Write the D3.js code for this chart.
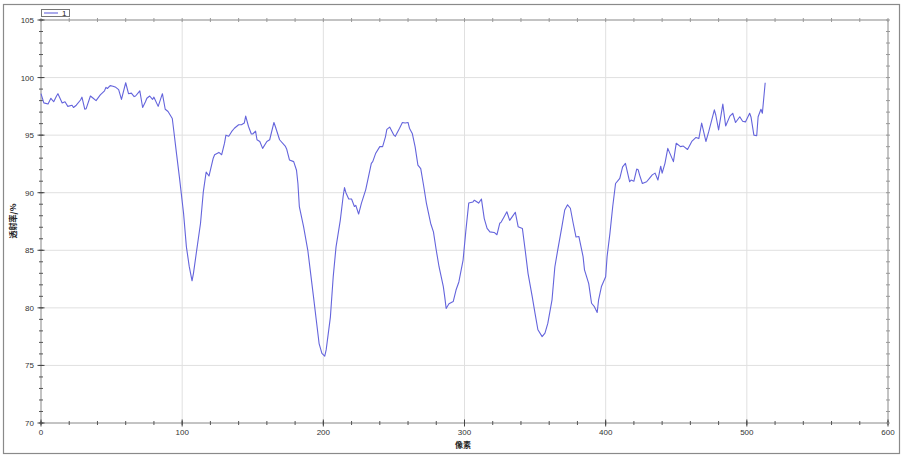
<!DOCTYPE html>
<html><head><meta charset="utf-8">
<script src="https://cdn.jsdelivr.net/npm/d3@7"></script>
<style>body{margin:0;background:#fff;}svg{display:block;font-family:"Liberation Sans",Arial,sans-serif;}</style>
</head><body>
<svg id="c" width="906" height="459"></svg>
<script>
const pixels = [0,2,5,7,9,11,12,15,17,19,22,23,25,28,29,31,32,35,37,39,42,45,46,47,49,51,53,55,57,60,62,64,66,67,70,72,74,75,77,79,80,83,86,88,90,93,94,96,98,101,103,105,107,108,110,113,115,117,119,122,123,126,128,130,131,133,135,137,140,142,144,145,147,149,150,152,153,155,157,160,162,165,166,169,173,174,176,179,181,182,183,186,189,191,193,195,197,199,201,202,205,207,209,212,214,215,216,218,220,222,223,225,227,230,232,234,235,237,240,242,244,245,247,250,251,254,256,258,260,261,263,265,267,269,271,273,276,278,280,282,285,286,287,289,292,294,296,299,301,303,306,307,310,312,314,316,318,321,323,325,326,328,330,332,334,336,338,341,343,345,348,350,352,355,357,359,362,364,366,369,371,373,375,377,379,381,384,385,388,390,392,394,395,397,400,401,403,405,407,409,410,412,414,415,417,418,420,422,423,424,426,429,431,433,435,437,439,440,442,444,448,450,453,455,458,461,464,466,468,471,473,477,478,480,483,485,488,490,492,495,497,499,502,503,505,507,508,510,511,513];
const transmittance = [98.6,97.8,97.7,98.2,97.9,98.4,98.6,97.8,97.9,97.5,97.6,97.4,97.6,98.05,98.3,97.25,97.3,98.4,98.2,98.0,98.5,98.85,99.15,99.05,99.3,99.25,99.15,98.95,98.1,99.55,98.6,98.65,98.35,98.4,98.85,97.4,97.9,98.2,98.4,98.1,98.3,97.5,98.6,97.25,97.05,96.45,95.45,93.4,91.4,88.2,85.3,83.6,82.35,83.0,84.75,87.35,90.1,91.8,91.45,93.0,93.3,93.5,93.3,94.3,95.0,94.9,95.3,95.6,95.9,95.9,96.05,96.65,95.75,95.1,95.1,95.35,94.6,94.45,93.85,94.45,94.6,96.1,95.75,94.6,94.05,93.8,92.85,92.7,91.95,90.8,88.8,87.05,85.0,83.0,81.0,78.95,76.9,76.05,75.8,76.35,79.2,82.7,85.3,87.6,89.65,90.45,90.0,89.45,89.45,88.8,88.9,88.15,89.1,90.25,91.4,92.55,92.7,93.4,94.0,94.0,94.85,95.5,95.7,95.0,94.9,95.6,96.1,96.05,96.1,95.6,95.15,94.0,92.4,92.1,90.65,89.1,87.35,86.6,85.0,83.55,81.85,80.95,79.95,80.35,80.55,81.55,82.25,84.15,86.75,89.1,89.2,89.35,89.1,89.45,87.75,86.9,86.6,86.55,86.35,87.35,87.45,87.9,88.35,87.6,87.95,88.3,87.05,86.9,85.0,83.0,80.95,79.5,78.1,77.5,77.8,78.65,80.7,83.55,85.0,87.05,88.5,88.95,88.65,87.35,86.15,86.2,84.45,83.3,82.1,80.4,80.1,79.6,80.7,81.85,82.7,84.45,86.45,88.8,90.8,91.1,91.25,92.25,92.55,92.0,90.95,91.1,91.0,92.05,92.0,91.55,90.8,90.95,91.25,91.55,91.7,91.1,92.3,91.7,92.55,93.85,92.7,94.3,94.0,94.05,93.75,94.45,94.8,94.7,96.05,94.45,95.3,97.2,96.75,95.45,97.7,95.8,96.65,96.9,96.1,96.6,96.2,96.15,96.9,96.55,95.0,94.95,96.6,97.25,96.9,99.55];
const xTicks = [0,100,200,300,400,500,600];
const yTicks = [70,75,80,85,90,95,100,105];
const xLabel = "像素";
const yLabel = "透射率/%";
const seriesName = "1";

const svg = d3.select("#c");
const L = 41, R = 888, T = 20, B = 423;
const x = d3.scaleLinear().domain([0, 600]).range([L, R]);
const y = d3.scaleLinear().domain([70, 105]).range([B, T]);

// outer frame
svg.append("rect").attr("x", 3.5).attr("y", 4.5).attr("width", 896).attr("height", 449)
  .attr("fill", "#fff").attr("stroke", "#8a8a8a").attr("stroke-width", 1.2);

// grid
const g = svg.append("g");
g.selectAll(".gx").data(xTicks.slice(1, -1)).join("line")
  .attr("x1", d => x(d)).attr("x2", d => x(d)).attr("y1", T).attr("y2", B)
  .attr("stroke", "#e0e0e0").attr("stroke-width", 1);
g.selectAll(".gy").data(yTicks.slice(1, -1)).join("line")
  .attr("y1", d => y(d)).attr("y2", d => y(d)).attr("x1", L).attr("x2", R)
  .attr("stroke", "#e0e0e0").attr("stroke-width", 1);

// plot border
svg.append("rect").attr("x", L).attr("y", T).attr("width", R - L).attr("height", B - T)
  .attr("fill", "none").attr("stroke", "#888").attr("stroke-width", 1);

const xMinor = d3.range(0, 601, 20);
const yMinor = d3.range(70, 105.01, 1);
function tickLines(vals, len, isX, pos, color) {
  svg.append("g").selectAll("line").data(vals).join("line")
    .attr("x1", d => isX ? x(d) : pos - len).attr("x2", d => isX ? x(d) : pos + len)
    .attr("y1", d => isX ? pos - len : y(d)).attr("y2", d => isX ? pos + len : y(d))
    .attr("stroke", color).attr("stroke-width", 1);
}
tickLines(xMinor, 2, true, B, "#555");
tickLines(xTicks, 3.5, true, B, "#444");
tickLines(xMinor, 2, true, T, "#999");
tickLines(yMinor, 2, false, L, "#555");
tickLines(yTicks, 3.5, false, L, "#444");
tickLines(yMinor, 2, false, R, "#999");

// tick labels
svg.append("g").selectAll("text").data(xTicks).join("text")
  .attr("x", d => x(d)).attr("y", 435).attr("text-anchor", "middle")
  .attr("font-size", 8).attr("fill", "#333").text(d => d);
svg.append("g").selectAll("text").data(yTicks).join("text")
  .attr("x", 34).attr("y", d => y(d) + 3).attr("text-anchor", "end")
  .attr("font-size", 8).attr("fill", "#333").text(d => d);

// axis titles
svg.append("text").attr("x", 463).attr("y", 448).attr("text-anchor", "middle")
  .attr("font-size", 8).attr("font-weight", "bold").attr("fill", "#222")
  .attr("font-family", "'Noto Sans CJK SC',sans-serif").text(xLabel);
svg.append("text").attr("transform", "translate(16,221) rotate(-90)").attr("text-anchor", "middle")
  .attr("font-size", 8).attr("font-weight", "bold").attr("fill", "#222")
  .attr("font-family", "'Noto Sans CJK SC',sans-serif").text(yLabel);

// line
const line = d3.line().x((d, i) => x(pixels[i])).y(d => y(d));
svg.append("path").datum(transmittance).attr("d", line)
  .attr("fill", "none").attr("stroke", "#6464dc").attr("stroke-width", 1.1)
  .attr("stroke-linejoin", "round");

// legend
const lg = svg.append("g");
lg.append("rect").attr("x", 41.5).attr("y", 9.5).attr("width", 28).attr("height", 7)
  .attr("fill", "#fff").attr("stroke", "#777").attr("stroke-width", 1);
lg.append("line").attr("x1", 44).attr("x2", 58).attr("y1", 13).attr("y2", 13)
  .attr("stroke", "#6464dc").attr("stroke-width", 1.1);
lg.append("text").attr("x", 62).attr("y", 16).attr("font-size", 8).attr("fill", "#222").text(seriesName);
</script>
</body></html>
